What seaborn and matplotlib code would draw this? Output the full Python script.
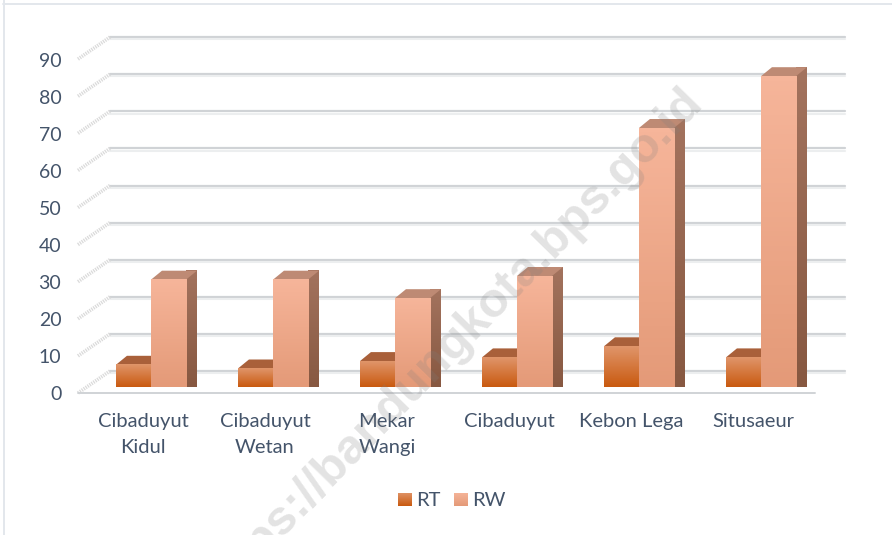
import matplotlib
matplotlib.use("Agg")
import matplotlib.pyplot as plt
import matplotlib.transforms as mtrans
import numpy as np
import pandas as pd
import seaborn as sns
from matplotlib.colors import LinearSegmentedColormap
from matplotlib.patches import Polygon

categories = ["Cibaduyut\nKidul", "Cibaduyut\nWetan", "Mekar\nWangi", "Cibaduyut", "Kebon Lega", "Situsaeur"]
rt_values = [6, 5, 7, 8, 11, 8]
rw_values = [29, 29, 24, 30, 70, 84]
y_ticks = list(range(0, 100, 10))

TEXT = "#44546A"
W, H = 892, 535

sns.set_theme(style="white")
plt.rcParams["font.family"] = ["Lato", "DejaVu Sans"]

df = pd.DataFrame({
    "category": categories * 2,
    "series": ["RT"] * 6 + ["RW"] * 6,
    "value": rt_values + rw_values,
})

fig = plt.figure(figsize=(W / 100, H / 100), dpi=100)
# axes box is the front plane: x 78-815 px, value 0 at 387 px, value 90 at 54 px
ax = fig.add_axes([78 / W, 1 - 387 / H, (815 - 78) / W, 333 / H])

colors = {
    "RT": {"face": ("#E0956A", "#C95A10"), "top": "#A9603A", "side": ("#A9603A", "#8A4A20")},
    "RW": {"face": ("#F6B59A", "#E49A78"), "top": "#BE8A74", "side": ("#A3735E", "#875841")},
}

sns.barplot(data=df, x="category", y="value", hue="series", order=categories,
            hue_order=["RT", "RW"], palette={"RT": "#D4702F", "RW": "#F0A888"},
            width=0.574, gap=0, saturation=1, legend=True, ax=ax)

ax.set_xlabel("")
ax.set_ylabel("")
sns.despine(ax=ax, left=True, bottom=True)

px_x = (5.443 + 0.598) / (815 - 78)
px_y = 90 / 333


def back_xy(px, py):
    return -0.598 + (px - 78) * px_x, (387 - py) * px_y


# back wall gridlines and the hatched side-wall marks
for v in y_ticks:
    py = 371 - v * 3.71
    x0, y0 = back_xy(110, py)
    x1, _ = back_xy(845, py)
    ax.plot([x0, x1], [y0, y0], color="#D0D3D6", lw=1.6, clip_on=False, zorder=1)
    ax.plot([x0, x1], [y0 - 0.6, y0 - 0.6], color="#ECEEEF", lw=1.5, clip_on=False, zorder=1)
    xa, ya = back_xy(78, py + 22)
    ax.plot([xa, x0], [ya, y0], color="#DADADA", lw=2.6, ls=(0, (0.35, 0.3)), clip_on=False, zorder=1)

x0, y0 = back_xy(78, 393)
x1, _ = back_xy(815, 393)
ax.plot([x0, x1], [y0, y0], color="#D0D3D6", lw=1.4, clip_on=False, zorder=1)

dx, dy = 11 * px_x, 9 * px_y


def gradient(top, bottom):
    return LinearSegmentedColormap.from_list("g", [top, bottom])


grad = np.linspace(0, 1, 64).reshape(-1, 1)
n = len(categories)
bars = [b for b in ax.patches if b.get_height() > 0]
for i, bar in enumerate(bars):
    style = colors["RT"] if i < n else colors["RW"]
    z = 3 if i < n else 5
    x, w, h = bar.get_x(), bar.get_width(), bar.get_height()
    bar.set_visible(False)
    side = ax.imshow(grad, extent=[x + w, x + w + dx, 0, h + dy], aspect="auto",
                     cmap=gradient(*style["side"]), zorder=z, clip_on=False)
    side.set_clip_path(Polygon([(x + w, 0), (x + w + dx, dy), (x + w + dx, h + dy), (x + w, h)],
                               transform=ax.transData))
    ax.add_patch(Polygon([(x, h), (x + w, h), (x + w + dx, h + dy), (x + dx, h + dy)],
                         fc=style["top"], ec="none", zorder=z, clip_on=False))
    ax.imshow(grad, extent=[x, x + w, 0, h], aspect="auto",
              cmap=gradient(*style["face"]), zorder=z + 1, clip_on=False)

ax.set_xlim(-0.598, 5.443)
ax.set_ylim(0, 90)

ax.set_yticks(y_ticks)
ax.tick_params(axis="y", length=0, pad=12, labelsize=14, labelcolor=TEXT)
ax.tick_params(axis="x", length=0, pad=18.5, labelsize=14.5, labelcolor=TEXT)
ax.set_xticks(range(n))
ax.set_xticklabels(categories, linespacing=1.7)
# labels sit on the front plane of the 3D box, a little off the bars' base
y_shift = mtrans.ScaledTranslation(0, -6 / 100, fig.dpi_scale_trans)
x_shift = mtrans.ScaledTranslation(-8 / 100, 0, fig.dpi_scale_trans)
for lab in ax.get_yticklabels():
    lab.set_transform(lab.get_transform() + y_shift)
for lab in ax.get_xticklabels():
    lab.set_transform(lab.get_transform() + x_shift)
ax.patch.set_alpha(0)

leg = ax.legend(loc="center", bbox_to_anchor=(452 / W, 1 - 501 / H), bbox_transform=fig.transFigure,
                ncol=2, frameon=False, fontsize=14.5, labelcolor=TEXT, handlelength=0.68, handleheight=0.68,
                handletextpad=0.2, columnspacing=0.7)

# swap the flat legend squares for the bars' gradient
fig.canvas.draw()
for handle, name in zip(leg.get_patches(), ["RT", "RW"]):
    box = handle.get_window_extent().transformed(fig.transFigure.inverted())
    sw = fig.add_axes([box.x0, box.y0, box.width, box.height])
    sw.imshow(grad, aspect="auto", cmap=gradient(*colors[name]["face"]))
    sw.axis("off")

# page frame
for xs, ys in [((3.5, 3.5), (0, H)), ((3, W), (H - 3.5, H - 3.5))]:
    fig.add_artist(plt.Line2D([x / W for x in xs], [y / H for y in ys], color="#E3E7EC", lw=1.4))

fig.text(452 / W, 1 - 344 / H, "https://bandungkota.bps.go.id", rotation=45.7, rotation_mode="anchor",
         ha="center", va="center", fontsize=35, fontweight="bold", color="#808080", alpha=0.22,
         family=["Liberation Sans", "DejaVu Sans"], zorder=20)

fig.savefig("out.png", dpi=100)
